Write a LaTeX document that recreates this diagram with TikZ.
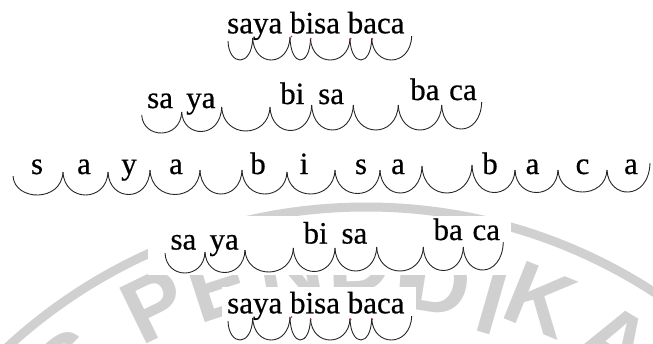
\documentclass[tikz,border=0pt]{standalone}
\usepackage{fontspec}
\setmainfont{Liberation Serif}[FakeBold=0.5]
\newfontfamily\wmfont{Liberation Sans}
\usetikzlibrary{calc}
\definecolor{wm}{RGB}{208,208,208}
\definecolor{dotred}{RGB}{220,30,30}
\newcommand{\sylarc}[5]{%
  \pgfmathsetmacro\sxa{#1+0.03*(#3-#1)}%
  \pgfmathsetmacro\sya{#2+1.3333*(#5-#2)}%
  \pgfmathsetmacro\sxb{#3-0.03*(#3-#1)}%
  \pgfmathsetmacro\syb{#4+1.3333*(#5-#4)}%
  \draw[arcline] (#1,#2) .. controls (\sxa,\sya) and (\sxb,\syb) .. (#3,#4);}
\begin{document}
\begin{tikzpicture}[x=1pt,y=-1pt,
  syl/.style={inner sep=0pt, font=\fontsize{31}{31}\selectfont, anchor=base west},
  lettr/.style={inner sep=0pt, font=\fontsize{31}{31}\selectfont, anchor=base},
  arcline/.style={line width=0.9pt, black!85},
  wmletter/.style={text=wm, font=\wmfont\bfseries\fontsize{90}{90}\selectfont, inner sep=0pt},
  reddot/.style={fill=dotred, draw=none}]
\useasboundingbox (0,0) rectangle (653,343);
% watermark
\begin{scope}
\clip (0,0) rectangle (653,343);
\draw[wm, line width=9pt] (366,736) circle[radius=529pt];
\node[wmletter, rotate=38] (wS) at (70,366) {S};
\node[wmletter, rotate=26] (wP) at (155,306) {P};
\node[wmletter, rotate=18] (wE) at (218,286) {E};
\node[wmletter, rotate=10] (wN) at (290,268) {N};
\node[wmletter, rotate=2] (wD1) at (360,260) {D};
\node[wmletter, rotate=-4] (wI1) at (408,264) {I};
\node[wmletter, rotate=-9] (wD2) at (438,282) {D};
\node[wmletter, rotate=-16] (wI2) at (492,303) {I};
\node[wmletter, rotate=-22] (wK) at (540,300) {K};
\node[wmletter, rotate=-31] (wA) at (616,342) {A};
\end{scope}
% white backgrounds of rows 4 and 5
\fill[white] (148,216) rectangle (511,275);
\fill[white] (222,287) rectangle (416,343);
% ---------- row 1
\node[syl] (r1) at (227,33.3) {saya bisa baca};
\foreach \xa/\ya/\xb/\yb/\yc in {228/41/252.7/38/60, 252.7/38/290/37/60, 290/37/310.5/38.5/60,
  310.5/38.5/350/38.5/60, 350/38.5/371.7/38.5/60, 371.7/38.5/411.7/36/60}
  {\sylarc{\xa}{\ya}{\xb}{\yb}{\yc}}
\foreach \dx/\dy in {291.5/36.5, 310.7/38.8, 350.7/38.8, 372.3/38.8}
  \fill[reddot] (\dx,\dy) circle[radius=0.9pt];
% ---------- row 2
\node[syl] (r2a) at (147,108) {sa};
\node[syl] (r2b) at (186,108) {ya};
\node[syl] (r2c) at (280,104) {bi};
\node[syl] (r2d) at (318,104) {sa};
\node[syl] (r2e) at (410,100) {ba};
\node[syl] (r2f) at (449,100) {ca};
\foreach \xa/\ya/\xb/\yb/\yc in {141.7/115/181.7/112/133, 181.7/112/221.7/107/131.5,
  221.7/107/270/107/131, 270/107/311.7/105/130.5, 311.7/105/353.3/105/130,
  353.3/105/398.3/105/130, 398.3/105/441.7/105/130, 441.7/105/481.7/102/129}
  {\sylarc{\xa}{\ya}{\xb}{\yb}{\yc}}
% ---------- row 3
\foreach \ch/\cx [count=\i] in {s/37, a/84, y/129, a/176, b/258, i/304, s/361, a/398, b/490, a/532.5, c/582.5, a/631}
  \node[lettr] (r3l\i) at (\cx,174) {\ch};
\foreach \xa/\ya/\xb/\yb/\yc in {13/176/63/172/195, 63/172/108/172/195, 108/172/150/170/194.5,
  150/170/200/170/194.5, 200/170/242/170/194, 242/170/287/172/194, 287/172/335/170/194,
  335/170/380/170/193.5, 380/170/422/166/193, 422/166/472/165/193, 472/165/515/170/192.5,
  515/170/558/170/192.5, 558/170/607/170/192, 607/170/650/163/192}
  {\sylarc{\xa}{\ya}{\xb}{\yb}{\yc}}
% ---------- row 4
\node[syl] (r4a) at (170.3,249.5) {sa};
\node[syl] (r4b) at (209.3,249.5) {ya};
\node[syl] (r4c) at (303.3,243.5) {bi};
\node[syl] (r4d) at (341.3,243.5) {sa};
\node[syl] (r4e) at (433.3,240) {ba};
\node[syl] (r4f) at (472.3,240) {ca};
\foreach \xa/\ya/\xb/\yb/\yc in {165/253/205/252/273, 205/252/245/250/272.5,
  245/250/293.3/248/272, 293.3/248/335/248/271.5, 335/248/376.7/247/271,
  376.7/247/423.3/247/271, 423.3/247/463.3/247/270.5, 463.3/247/503.3/242/270}
  {\sylarc{\xa}{\ya}{\xb}{\yb}{\yc}}
% ---------- row 5
\node[syl] (r5) at (227,313.3) {saya bisa baca};
\foreach \xa/\ya/\xb/\yb/\yc in {228/321/252.7/318/340, 252.7/318/290/317/340, 290/317/310.5/318.5/340,
  310.5/318.5/350/318.5/340, 350/318.5/371.7/318.5/340, 371.7/318.5/411.7/316/340}
  {\sylarc{\xa}{\ya}{\xb}{\yb}{\yc}}
\foreach \dx/\dy in {291.5/317, 310.7/319.3, 350.7/319.3, 372.3/319.3}
  \fill[reddot] (\dx,\dy) circle[radius=0.9pt];
\end{tikzpicture}
\end{document}
